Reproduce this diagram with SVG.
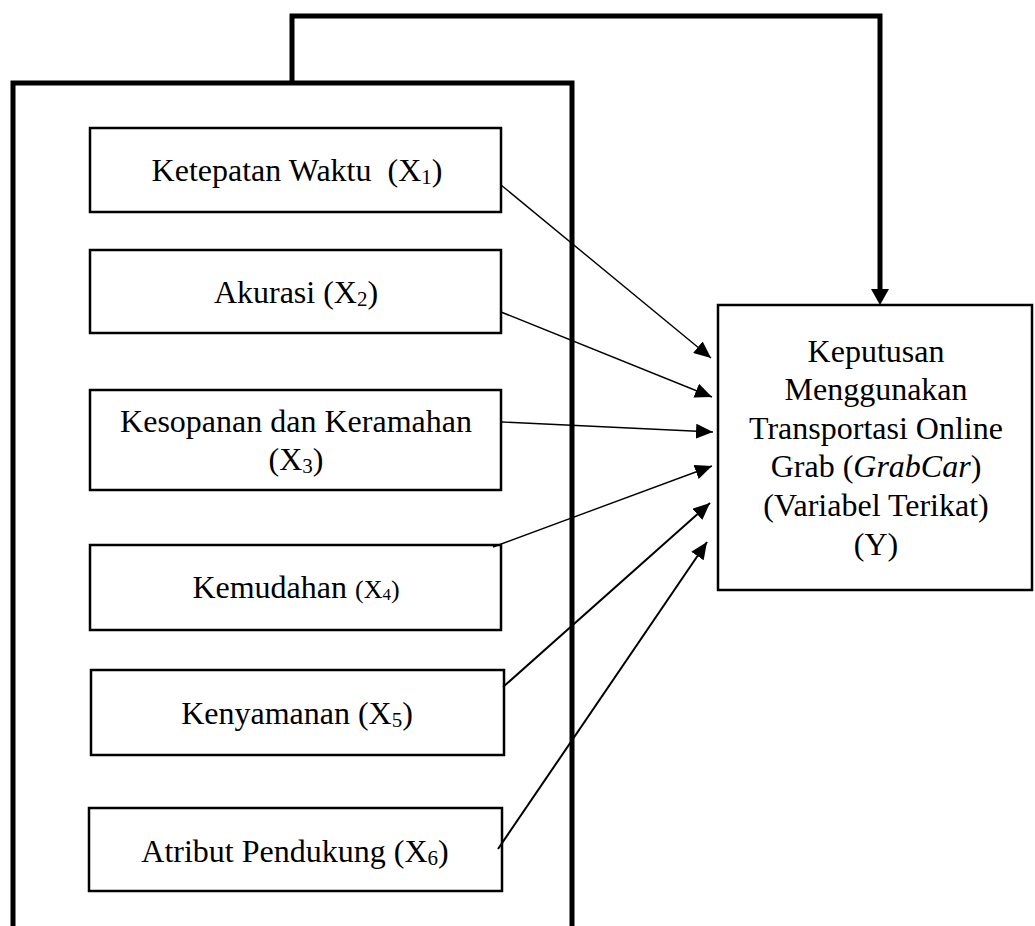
<svg xmlns="http://www.w3.org/2000/svg" width="1035" height="926" viewBox="0 0 1035 926">
<style>
.box{fill:#fff;stroke:#000;stroke-width:2.5}
.t{font-family:"Liberation Serif","Times New Roman",serif;font-size:32px;fill:#000;text-anchor:middle}
.s{font-size:21px}
.thin{fill:none;stroke:#000;stroke-width:1.4}
.med{fill:none;stroke:#000;stroke-width:2}
.thick{fill:none;stroke:#000;stroke-width:5}
</style>
<defs>
<marker id="ah" viewBox="0 0 17 15" refX="17" refY="7.5" markerWidth="17" markerHeight="15" markerUnits="userSpaceOnUse" orient="auto">
<path d="M0,0 L17,7.5 L0,15 z" fill="#000"/>
</marker>
<marker id="ahb" viewBox="0 0 16 18" refX="0" refY="9" markerWidth="16" markerHeight="18" markerUnits="userSpaceOnUse" orient="auto">
<path d="M0,0 L16,9 L0,18 z" fill="#000"/>
</marker>
</defs>
<rect width="1035" height="926" fill="#fff"/>
<g id="frame">
<path class="thick" d="M13,926 V83 H572 V926"/>
</g>
<g id="x1">
<rect class="box" x="90" y="128" width="411" height="84"/>
<text class="t" x="297" y="181" xml:space="preserve">Ketepatan Waktu  (X<tspan class="s" dy="3">1</tspan><tspan dy="-3">)</tspan></text>
</g>
<g id="x2">
<rect class="box" x="90" y="250" width="411" height="83"/>
<text class="t" x="296" y="303">Akurasi (X<tspan class="s" dy="3">2</tspan><tspan dy="-3">)</tspan></text>
</g>
<g id="x3">
<rect class="box" x="90" y="390" width="411" height="100"/>
<text class="t" x="296" y="432">Kesopanan dan Keramahan</text>
<text class="t" x="296" y="470">(X<tspan class="s" dy="3">3</tspan><tspan dy="-3">)</tspan></text>
</g>
<g id="x4">
<rect class="box" x="90" y="545" width="411" height="85"/>
<text class="t" x="296" y="598">Kemudahan <tspan font-size="26">(X</tspan><tspan font-size="17" dy="2">4</tspan><tspan font-size="26" dy="-2">)</tspan></text>
</g>
<g id="x5">
<rect class="box" x="91" y="670" width="413" height="85"/>
<text class="t" x="297" y="724">Kenyamanan (X<tspan class="s" dy="3">5</tspan><tspan dy="-3">)</tspan></text>
</g>
<g id="x6">
<rect class="box" x="89" y="808" width="413" height="83"/>
<text class="t" x="295" y="862">Atribut Pendukung (X<tspan class="s" dy="3">6</tspan><tspan dy="-3">)</tspan></text>
</g>
<g id="y">
<rect class="box" x="718" y="305" width="314" height="285"/>
<text class="t" x="876" y="362">Keputusan</text>
<text class="t" x="876" y="400">Menggunakan</text>
<text class="t" x="876" y="439">Transportasi Online</text>
<text class="t" x="876" y="477">Grab (<tspan font-style="italic">GrabCar</tspan>)</text>
<text class="t" x="876" y="516">(Variabel Terikat)</text>
<text class="t" x="876" y="555">(Y)</text>
</g>
<g id="connectors">
<path class="thick" d="M292,83 V16 H880 V289" marker-end="url(#ahb)"/>
<line class="thin" x1="501" y1="185" x2="711" y2="358" marker-end="url(#ah)"/>
<line class="thin" x1="501" y1="312" x2="712" y2="397" marker-end="url(#ah)"/>
<line class="thin" x1="502" y1="422" x2="713" y2="432" marker-end="url(#ah)"/>
<line class="thin" x1="493" y1="547" x2="712" y2="466" marker-end="url(#ah)"/>
<line class="med" x1="503" y1="687" x2="710" y2="503" marker-end="url(#ah)"/>
<line class="med" x1="498" y1="849" x2="707" y2="542" marker-end="url(#ah)"/>
</g>
</svg>
